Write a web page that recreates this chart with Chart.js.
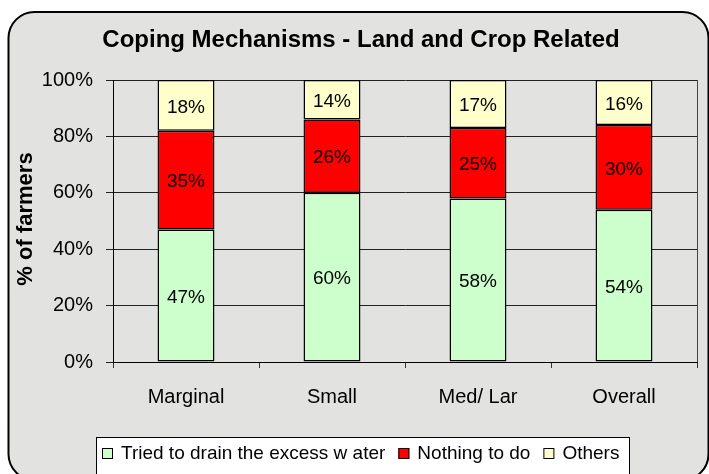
<!DOCTYPE html>
<html>
<head>
<meta charset="utf-8">
<script src="https://cdn.jsdelivr.net/npm/chart.js@4.4.1/dist/chart.umd.min.js"></script>
<style>
  html, body { margin: 0; padding: 0; background: #fff; }
  #wrap { width: 709px; height: 474px; }
</style>
</head>
<body>
<div id="wrap"><canvas id="chart" width="709" height="474"></canvas></div>
<script>
const categories = ["Marginal", "Small", "Med/ Lar", "Overall"];
const drained = [47, 60, 58, 54];
const nothingToDo = [35, 26, 25, 30];
const others = [18, 14, 17, 16];
const seriesNames = ["Tried to drain the excess w ater", "Nothing to do", "Others"];
const seriesColors = ["#ccffcc", "#ff0000", "#ffffcc"];
const yTicks = [0, 20, 40, 60, 80, 100];

const FONT = '"Liberation Sans", Arial, sans-serif';

// frame + grey background
const frame = {
    id: "frame",
    beforeDraw(chart) {
        const ctx = chart.ctx;
        ctx.save();
        ctx.fillStyle = "#fff";
        ctx.fillRect(0, 0, chart.width, chart.height);
        ctx.beginPath();
        ctx.roundRect(8.5, 12, 700, 468, 26);
        ctx.fillStyle = "#e2e2e0";
        ctx.fill();
        ctx.lineWidth = 2;
        ctx.strokeStyle = "#000";
        ctx.stroke();
        ctx.restore();
    },
    beforeDatasetsDraw(chart) {
        // right edge of the plot area
        const { ctx, chartArea } = chart;
        ctx.save();
        ctx.strokeStyle = "#444";
        ctx.lineWidth = 1;
        ctx.beginPath();
        ctx.moveTo(Math.round(chartArea.right) + 0.5, chartArea.top);
        ctx.lineTo(Math.round(chartArea.right) + 0.5, chartArea.bottom);
        ctx.stroke();
        ctx.restore();
    },
};

// texts: title, axis title, value labels
const texts = {
    id: "texts",
    afterDatasetsDraw(chart) {
        const ctx = chart.ctx;
        ctx.save();
        ctx.fillStyle = "#000";
        ctx.textAlign = "center";
        ctx.textBaseline = "middle";

        chart.data.datasets.forEach((ds, i) => {
            chart.getDatasetMeta(i).data.forEach((bar, j) => {
                ctx.font = "19px " + FONT;
                ctx.fillText(ds.data[j] + "%", bar.x, (bar.y + bar.base) / 2 + 2);
            });
        });

        ctx.font = "bold 24px " + FONT;
        ctx.fillText("Coping Mechanisms - Land and Crop Related", 361, 40);

        ctx.translate(26, 219);
        ctx.rotate(-Math.PI / 2);
        ctx.font = "bold 22px " + FONT;
        ctx.fillText("% of farmers", 0, 0);
        ctx.restore();
    },
};

// legend box at the bottom
const legendBox = {
    id: "legendBox",
    afterDraw(chart) {
        const ctx = chart.ctx;
        ctx.save();
        ctx.fillStyle = "#fff";
        ctx.fillRect(96.5, 437.5, 533, 50);
        ctx.strokeStyle = "#000";
        ctx.lineWidth = 1;
        ctx.strokeRect(96.5, 437.5, 533, 50);

        ctx.font = "19px " + FONT;
        ctx.textBaseline = "middle";
        let x = 102;
        seriesNames.forEach((name, i) => {
            ctx.fillStyle = seriesColors[i];
            ctx.fillRect(x, 448, 11, 11);
            ctx.strokeRect(x + 0.5, 448.5, 10, 10);
            ctx.fillStyle = "#000";
            ctx.fillText(name, x + 19, 454);
            x += 19 + ctx.measureText(name).width + 13;
        });
        ctx.restore();
    },
};

new Chart(document.getElementById("chart"), {
    type: "bar",
    data: {
        labels: categories,
        datasets: [drained, nothingToDo, others].map((values, i) => ({
            label: seriesNames[i],
            data: values,
            backgroundColor: seriesColors[i],
            borderColor: "#000",
            borderWidth: 1.5,
            borderSkipped: false,
            barPercentage: 0.39,
            categoryPercentage: 1,
        })),
    },
    options: {
        responsive: false,
        devicePixelRatio: 1,
        animation: false,
        layout: { padding: { left: 0, top: 80, right: 12, bottom: 0 } },
        scales: {
            x: {
                stacked: true,
                afterFit: (scale) => { scale.height = 112; },
                grid: { drawOnChartArea: false, tickLength: 6, color: "#333", offset: true },
                border: { display: true, color: "#000", width: 1 },
                ticks: { color: "#000", font: { family: FONT, size: 20 }, padding: 17 },
            },
            y: {
                stacked: true,
                min: 0,
                max: 100,
                afterFit: (scale) => { scale.width = 113; },
                afterBuildTicks: (scale) => { scale.ticks = yTicks.map((v) => ({ value: v })); },
                grid: { color: "#222", lineWidth: 1, tickLength: 7 },
                border: { display: true, color: "#000", width: 1 },
                ticks: {
                    color: "#000",
                    font: { family: FONT, size: 20 },
                    padding: 13,
                    callback: (v) => v + "%",
                },
            },
        },
        plugins: {
            legend: { display: false },
            title: { display: false },
            tooltip: { enabled: false },
        },
    },
    plugins: [frame, texts, legendBox],
});
</script>
</body>
</html>
